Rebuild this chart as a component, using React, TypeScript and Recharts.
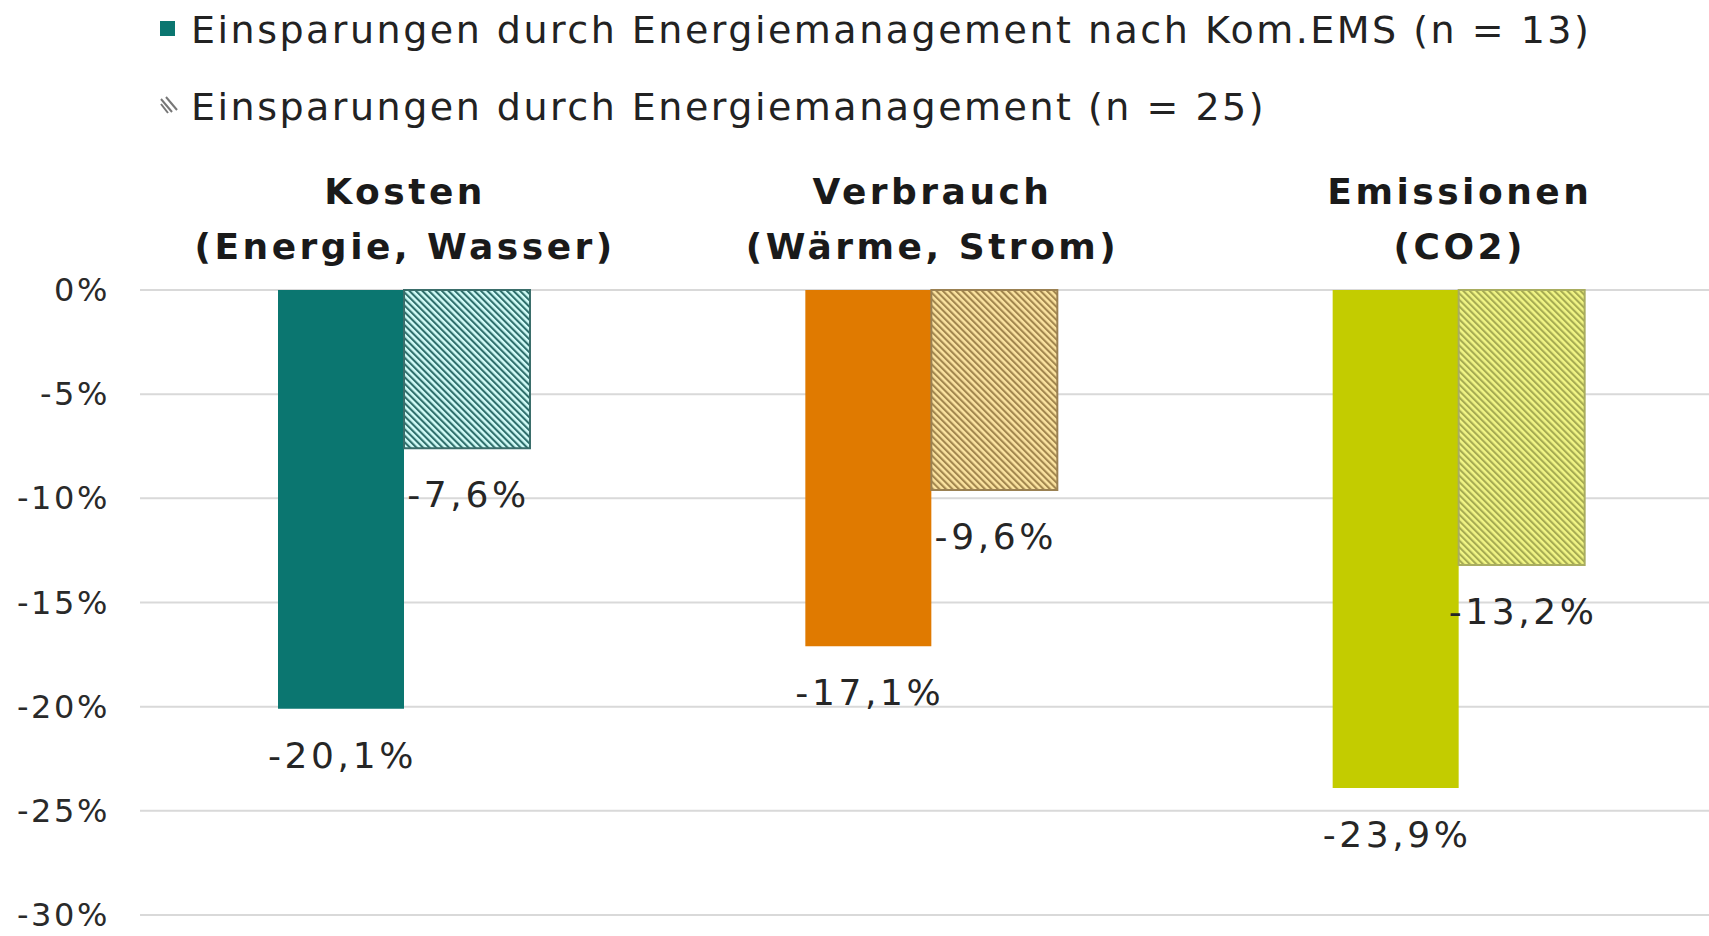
import React from 'react';
import { BarChart, Bar, XAxis, YAxis, CartesianGrid, Cell, LabelList, Legend } from 'recharts';

const categoryLine1 = ['Kosten', 'Verbrauch', 'Emissionen'];
const categoryLine2 = ['(Energie, Wasser)', '(Wärme, Strom)', '(CO2)'];
const komEmsValues = [-20.1, -17.1, -23.9];
const allValues = [-7.6, -9.6, -13.2];
const yTicks = [0, -5, -10, -15, -20, -25, -30];
const seriesNames = [
  'Einsparungen durch Energiemanagement nach Kom.EMS (n = 13)',
  'Einsparungen durch Energiemanagement (n = 25)',
];
const solidColors = ['#0b7670', '#e07a00', '#c3cc00'];
const hatchDark = ['#2f6f6c', '#a2864e', '#a6ab52'];
const hatchLight = ['#d2fcf8', '#fbe3a0', '#f1f585'];
const hatchBorder = ['#3b6e6b', '#9b8152', '#a9ad60'];

const data = categoryLine1.map((c, i) => ({
  key: c,
  line2: categoryLine2[i],
  kom: komEmsValues[i],
  all: allValues[i],
}));

const FONT = '"DejaVu Sans", Verdana, sans-serif';

const fmt = (v: number) => v.toFixed(1).replace('.', ',') + '%';

const CategoryTick = (props: any) => {
  const { x, y, payload } = props;
  const idx = categoryLine1.indexOf(payload.value);
  return (
    <g>
      <text x={x + 1.5} y={y - 86} textAnchor="middle" fontFamily={FONT} fontWeight="bold" fontSize={36} letterSpacing={3.5} fill="#1a1a1a">
        {payload.value}
      </text>
      <text x={x + 1.5} y={y - 31} textAnchor="middle" fontFamily={FONT} fontWeight="bold" fontSize={36} letterSpacing={3.5} fill="#1a1a1a">
        {categoryLine2[idx]}
      </text>
    </g>
  );
};

const ValueTick = (props: any) => {
  const { x, y, payload } = props;
  return (
    <text x={x + 2} y={y + 11} textAnchor="end" fontFamily={FONT} fontSize={32} letterSpacing={2.6} fill="#2a2a2a">
      {payload.value + '%'}
    </text>
  );
};

const renderLabel = (props: any) => {
  const { x, y, width, height, value } = props;
  const top = Number(y);
  const bottom = Math.max(top, top + Number(height));
  return (
    <text x={Number(x) + Number(width) / 2 + 1.5} y={bottom + 59} textAnchor="middle" fontFamily={FONT} fontSize={36} letterSpacing={3.6} fill="#262626">
      {fmt(Number(value))}
    </text>
  );
};

const renderLegend = () => (
  <svg width={1709} height={140}>
    <rect x={160} y={21} width={15} height={15} fill={solidColors[0]} />
    <text x={191} y={43} fontFamily={FONT} fontSize={38} letterSpacing={2.5} fill="#222">
      {seriesNames[0]}
    </text>
    <g stroke="#777" strokeWidth={2}>
      <line x1={161} y1={99} x2={172} y2={112} />
      <line x1={166} y1={97} x2={177} y2={110} />
      <line x1={161} y1={104} x2={168} y2={113} />
    </g>
    <text x={191} y={120} fontFamily={FONT} fontSize={38} letterSpacing={2.5} fill="#222">
      {seriesNames[1]}
    </text>
  </svg>
);

export default function App() {
  return (
    <div style={{ position: 'fixed', top: 0, left: 0, width: 1709, height: 936, overflow: 'hidden', background: '#fff' }}>
      <BarChart
        width={1722}
        height={936}
        data={data}
        margin={{ top: 0, right: 0, left: 0, bottom: 21 }}
        barGap={0}
        barSize={126}
      >
        <defs>
          {categoryLine1.map((c, i) => (
            <pattern
              key={c}
              id={`hatch-${i}`}
              width={4.6}
              height={4.6}
              patternUnits="userSpaceOnUse"
              patternTransform="rotate(-45)"
            >
              <rect x={0} y={0} width={4.6} height={4.6} fill={hatchLight[i]} />
              <rect x={0} y={0} width={2.1} height={4.6} fill={hatchDark[i]} />
            </pattern>
          ))}
        </defs>
        <Legend
          verticalAlign="middle"
          align="center"
          layout="horizontal"
          wrapperStyle={{ top: 0, left: 0, width: 1709, height: 140 }}
          content={renderLegend}
        />
        <CartesianGrid horizontal vertical={false} stroke="#d9d9d9" strokeWidth={2} />
        <XAxis
          dataKey="key"
          orientation="top"
          height={290}
          axisLine={false}
          tickLine={false}
          tickSize={0}
          tickMargin={0}
          tick={<CategoryTick />}
          interval={0}
        />
        <YAxis
          type="number"
          domain={[-30, 0]}
          ticks={yTicks}
          width={140}
          axisLine={false}
          tickLine={false}
          tickSize={0}
          tickMargin={32}
          tick={<ValueTick />}
          interval={0}
        />
        <Bar dataKey="kom" name={seriesNames[0]} isAnimationActive={false}>
          {data.map((d, i) => (
            <Cell key={d.key} fill={solidColors[i]} />
          ))}
          <LabelList dataKey="kom" content={renderLabel} />
        </Bar>
        <Bar dataKey="all" name={seriesNames[1]} isAnimationActive={false}>
          {data.map((d, i) => (
            <Cell key={d.key} fill={`url(#hatch-${i})`} stroke={hatchBorder[i]} strokeWidth={2} />
          ))}
          <LabelList dataKey="all" content={renderLabel} />
        </Bar>
      </BarChart>
    </div>
  );
}
